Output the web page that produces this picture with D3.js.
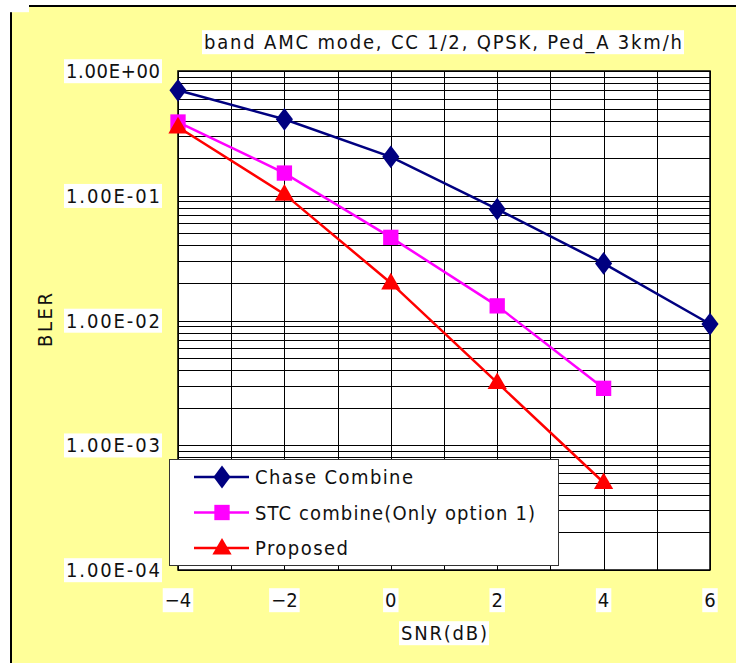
<!DOCTYPE html>
<html>
<head>
<meta charset="utf-8">
<script src="https://cdn.jsdelivr.net/npm/d3@7"></script>
<style>
	body { margin: 0; background: #fff; }
	text { font-family: "DejaVu Sans Condensed", "DejaVu Sans", sans-serif; fill: #111; }
</style>
</head>
<body>
<div id="chart"></div>
<script>

///////////////////////////////////////////////////////////////////////////
//////////////////////////////// Data /////////////////////////////////////
///////////////////////////////////////////////////////////////////////////

var snr = [-4, -2, 0, 2, 4, 6];
var chaseCombine = [0.70, 0.41, 0.205, 0.078, 0.0287, 0.00937];
var stcCombine = [0.39, 0.152, 0.0464, 0.0131, 0.00286];
var proposed = [0.356, 0.103, 0.020, 0.00318, 0.000503];

var seriesNames = ["Chase Combine", "STC combine(Only option 1)", "Proposed"];
var xTicks = [-4, -2, 0, 2, 4, 6];
var yTicks = [1, 1e-1, 1e-2, 1e-3, 1e-4];
var chartTitle = "band AMC mode, CC 1/2, QPSK, Ped_A 3km/h";

///////////////////////////////////////////////////////////////////////////
//////////////////// Set up and initiate svg containers ///////////////////
///////////////////////////////////////////////////////////////////////////

var width = 736,
	height = 663;

var plot = { left: 178, right: 710, top: 71, bottom: 570 };

var svg = d3.select("#chart")
	.append("svg")
	.attr("width", width)
	.attr("height", height);

//Yellow chart area with black frame
svg.append("rect")
	.attr("x", 11)
	.attr("y", 6)
	.attr("width", width + 10)
	.attr("height", height + 10)
	.style("fill", "#FFFF99")
	.style("stroke", "#000")
	.style("stroke-width", 2);

var x = d3.scaleLinear()
	.domain([-4, 6])
	.range([plot.left, plot.right]);

var y = d3.scaleLog()
	.domain([1e-4, 1])
	.range([plot.bottom, plot.top]);

//White plot area
svg.append("rect")
	.attr("x", plot.left)
	.attr("y", plot.top)
	.attr("width", plot.right - plot.left)
	.attr("height", plot.bottom - plot.top)
	.style("fill", "#fff");

///////////////////////////////////////////////////////////////////////////
////////////////////////////// Gridlines //////////////////////////////////
///////////////////////////////////////////////////////////////////////////

var grid = svg.append("g").attr("class", "grid")
	.style("shape-rendering", "crispEdges");

grid.selectAll(".hGrid")
	.data(y.ticks())
	.enter().append("line")
	.attr("class", "hGrid")
	.attr("x1", plot.left)
	.attr("x2", plot.right)
	.attr("y1", function(d) { return Math.round(y(d)) + 0.5; })
	.attr("y2", function(d) { return Math.round(y(d)) + 0.5; })
	.style("stroke", "#000")
	.style("stroke-width", 1);

grid.selectAll(".vGrid")
	.data(d3.range(-4, 7))
	.enter().append("line")
	.attr("class", "vGrid")
	.attr("x1", function(d) { return Math.round(x(d)) + 0.5; })
	.attr("x2", function(d) { return Math.round(x(d)) + 0.5; })
	.attr("y1", plot.top)
	.attr("y2", plot.bottom)
	.style("stroke", "#000")
	.style("stroke-width", 1);

//Plot border
svg.append("rect")
	.attr("x", plot.left)
	.attr("y", plot.top)
	.attr("width", plot.right - plot.left)
	.attr("height", plot.bottom - plot.top)
	.style("fill", "none")
	.style("stroke", "#000")
	.style("stroke-width", 1.5);

///////////////////////////////////////////////////////////////////////////
///////////////////////////// Text helpers ////////////////////////////////
///////////////////////////////////////////////////////////////////////////

//Put a white box behind a text element, like the reference does
function boxed(sel) {
	sel.each(function() {
		var node = this;
		var bb = node.getBBox();
		d3.select(node.parentNode).insert("rect", function() { return node; })
			.attr("x", bb.x - 2)
			.attr("y", bb.y)
			.attr("width", bb.width + 4)
			.attr("height", bb.height)
			.style("fill", "#fff");
	});
}

function expFormat(d) {
	var e = Math.round(Math.log10(d));
	return "1.00E" + (e < 0 ? "-" : "+") + d3.format("02d")(Math.abs(e));
}

var fontSize = 20;

//Title
var titleG = svg.append("g");
titleG.append("text")
	.attr("x", 443)
	.attr("y", 42)
	.attr("dy", "0.36em")
	.attr("text-anchor", "middle")
	.attr("textLength", 478)
	.attr("lengthAdjust", "spacing")
	.style("font-size", fontSize + "px")
	.text(chartTitle)
	.call(boxed);

//Y tick labels
var yLabG = svg.append("g");
yLabG.selectAll(".yLabel")
	.data(yTicks)
	.enter().append("text")
	.attr("class", "yLabel")
	.attr("x", 160)
	.attr("y", function(d) { return y(d); })
	.attr("dy", "0.36em")
	.attr("text-anchor", "end")
	.attr("textLength", 94)
	.attr("lengthAdjust", "spacing")
	.style("font-size", fontSize + "px")
	.text(expFormat)
	.call(boxed);

//X tick labels
var xLabG = svg.append("g");
xLabG.selectAll(".xLabel")
	.data(xTicks)
	.enter().append("text")
	.attr("class", "xLabel")
	.attr("x", function(d) { return x(d); })
	.attr("y", 600)
	.attr("dy", "0.36em")
	.attr("text-anchor", "middle")
	.style("font-size", fontSize + "px")
	.text(d3.format("d"))
	.call(boxed);

//Axis titles
var axisTitleG = svg.append("g");
axisTitleG.append("text")
	.attr("x", 444)
	.attr("y", 633)
	.attr("dy", "0.36em")
	.attr("text-anchor", "middle")
	.attr("textLength", 86)
	.attr("lengthAdjust", "spacing")
	.style("font-size", fontSize + "px")
	.text("SNR(dB)")
	.call(boxed);

axisTitleG.append("text")
	.attr("transform", "translate(45,320) rotate(-90)")
	.attr("dy", "0.36em")
	.attr("text-anchor", "middle")
	.attr("textLength", 54)
	.attr("lengthAdjust", "spacing")
	.style("font-size", fontSize + "px")
	.text("BLER")
	.call(boxed);

///////////////////////////////////////////////////////////////////////////
////////////////////////////// Series /////////////////////////////////////
///////////////////////////////////////////////////////////////////////////

var series = [
	{ name: seriesNames[0], values: chaseCombine, color: "#000080", marker: d3.symbolDiamond, size: 150, textLen: 158 },
	{ name: seriesNames[1], values: stcCombine, color: "#FF00FF", marker: d3.symbolSquare, size: 235, textLen: 280 },
	{ name: seriesNames[2], values: proposed, color: "#FF0000", marker: d3.symbolTriangle, size: 160, textLen: 93 }
];

var line = d3.line()
	.x(function(d) { return x(d.snr); })
	.y(function(d) { return y(d.bler); });

function toPoints(s) {
	return s.values.map(function(v, i) { return { snr: snr[i], bler: v }; });
}

//Diamond in d3 is narrow, so stretch it to a square-ish diamond
function markerPath(s) {
	return d3.symbol().type(s.marker).size(s.size)();
}
function markerTransform(s, px, py) {
	var t = "translate(" + px + "," + py + ")";
	if (s.marker === d3.symbolDiamond) t += " scale(1.3,1)";
	if (s.marker === d3.symbolTriangle) t += " translate(0,1)";
	return t;
}

var seriesG = svg.selectAll(".series")
	.data(series)
	.enter().append("g")
	.attr("class", "series");

seriesG.append("path")
	.attr("d", function(s) { return line(toPoints(s)); })
	.style("fill", "none")
	.style("stroke", function(s) { return s.color; })
	.style("stroke-width", 2.5);

seriesG.each(function(s) {
	d3.select(this).selectAll(".marker")
		.data(toPoints(s))
		.enter().append("path")
		.attr("class", "marker")
		.attr("d", markerPath(s))
		.attr("transform", function(d) { return markerTransform(s, x(d.snr), y(d.bler)); })
		.style("fill", s.color);
});

///////////////////////////////////////////////////////////////////////////
////////////////////////////// Legend /////////////////////////////////////
///////////////////////////////////////////////////////////////////////////

var legend = svg.append("g").attr("class", "legend");

legend.append("rect")
	.attr("x", 169.5)
	.attr("y", 459.5)
	.attr("width", 389)
	.attr("height", 106)
	.style("fill", "#fff")
	.style("stroke", "#333")
	.style("stroke-width", 1);

var legendRow = legend.selectAll(".legendRow")
	.data(series)
	.enter().append("g")
	.attr("class", "legendRow")
	.attr("transform", function(d, i) { return "translate(0," + (477 + i * 35.5) + ")"; });

legendRow.append("line")
	.attr("x1", 194)
	.attr("x2", 249)
	.style("stroke", function(s) { return s.color; })
	.style("stroke-width", 2.5);

legendRow.append("path")
	.attr("d", markerPath)
	.attr("transform", function(s) { return markerTransform(s, 222, 0); })
	.style("fill", function(s) { return s.color; });

legendRow.append("text")
	.attr("x", 255)
	.attr("dy", "0.36em")
	.attr("textLength", function(s) { return s.textLen; })
	.attr("lengthAdjust", "spacing")
	.style("font-size", fontSize + "px")
	.text(function(s) { return s.name; });

</script>
</body>
</html>
